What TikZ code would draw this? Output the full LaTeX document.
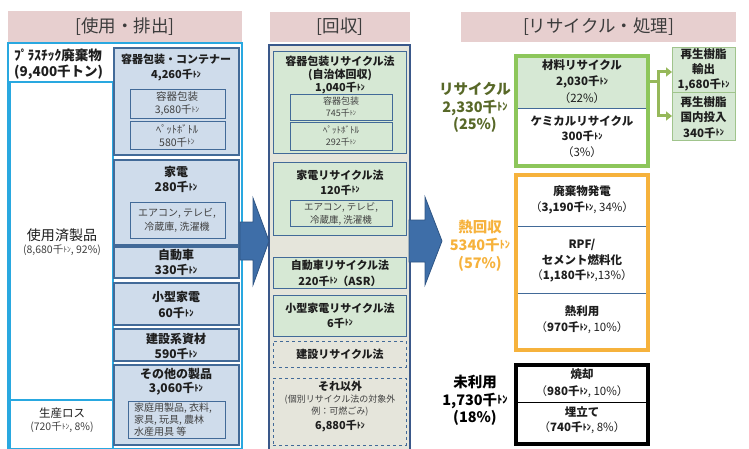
\documentclass[tikz,border=0pt]{standalone}
\usepackage{fontspec}
\setmainfont{Noto Sans CJK JP}
\usetikzlibrary{arrows.meta}
\definecolor{pinkh}{RGB}{231,207,207}
\definecolor{hdrtxt}{RGB}{60,60,60}
\definecolor{cyanb}{RGB}{41,168,224}
\definecolor{bgfill}{RGB}{207,220,235}
\definecolor{bborder}{RGB}{66,106,152}
\definecolor{mborder}{RGB}{58,88,138}
\definecolor{mfill}{RGB}{229,229,219}
\definecolor{gfill}{RGB}{214,232,212}
\definecolor{arrowblue}{RGB}{62,110,168}
\definecolor{arrowedge}{RGB}{47,85,132}
\definecolor{gframe}{RGB}{141,198,91}
\definecolor{oframe}{RGB}{246,178,60}
\definecolor{olive}{RGB}{88,104,40}
\definecolor{garrowc}{RGB}{150,184,90}
\definecolor{rborder}{RGB}{160,196,140}
\definecolor{txt}{RGB}{30,30,30}
\definecolor{txtl}{RGB}{64,64,64}
\newcommand\kt{千\raisebox{0.12em}{\scalebox{0.72}{ﾄﾝ}}}
\begin{document}
\begin{tikzpicture}[x=1pt,y=-1pt,
  box/.style={inner sep=0pt, outer sep=0pt, anchor=north west},
  hdr/.style={box, fill=pinkh},
  cy/.style={box, draw=cyanb, line width=1.2pt},
  bl/.style={box, fill=bgfill, draw=bborder, line width=1.1pt},
  bli/.style={box, draw=bborder, line width=0.9pt},
  gr/.style={box, fill=gfill, draw=bborder, line width=0.9pt},
  grd/.style={box, draw=bborder, line width=0.9pt, dashed},
  half/.style={box, draw=bborder, line width=0.8pt},
  hdt/.style={font=\fontsize{17.5}{20}\selectfont, text=hdrtxt, inner sep=0pt},
  tb/.style={font=\bfseries\fontsize{12}{15}\selectfont, align=center, inner sep=0pt, text=txt},
  ts/.style={font=\fontsize{10.5}{13}\selectfont, align=center, inner sep=0pt, text=txtl},
  tr/.style={font=\fontsize{11.5}{16}\selectfont, align=center, inner sep=0pt, text=txt},
  lab/.style={font=\bfseries\fontsize{14.5}{17.5}\selectfont, align=center, inner sep=0pt},
  garw/.style={draw=garrowc, line width=3pt, -{Triangle[length=6pt,width=9pt]}},
  bigarrow/.style={fill=arrowblue, draw=arrowedge, line width=0.8pt}
]
\useasboundingbox (0,0) rectangle (749,449);

% ---------- left section ----------
\node[hdr, minimum width=234pt, minimum height=31pt] (h1) at (8,11) {};
\node[hdt] (h1t) at (h1.center) {[使用・排出]};
\node[cy, minimum width=234pt, minimum height=406pt] (outL) at (8,43) {};
\node[cy, minimum width=103pt, minimum height=318pt] (colU) at (10,82) {};
\node[cy, minimum width=103pt, minimum height=49pt] (colL) at (10,400) {};
\node[tb, font=\bfseries\fontsize{13.5}{16}\selectfont, anchor=west, align=left] (plt) at (14,64) {ﾌﾟﾗｽﾁｯｸ廃棄物\\(9,400千トン)};
\node[inner sep=0pt, font=\fontsize{14}{17}\selectfont, text=txt] (usedt) at (62,235) {使用済製品};
\node[inner sep=0pt, font=\fontsize{10.5}{12}\selectfont, text=txtl] (usedn) at (62,250) {(8,680\kt, 92\%)};
\node[inner sep=0pt, font=\fontsize{11.5}{14}\selectfont, text=txt] (losst) at (62,413) {生産ロス};
\node[inner sep=0pt, font=\fontsize{10.5}{12}\selectfont, text=txtl] (lossn) at (62,427) {(720\kt, 8\%)};

\node[bl, minimum width=125pt, minimum height=107pt] (b1) at (114,48) {};
\node[bli, minimum width=95pt, minimum height=29pt] (b1a) at (130,89) {};
\node[bli, minimum width=95pt, minimum height=28pt] (b1b) at (130,121) {};
\node[bl, minimum width=125pt, minimum height=85pt] (b2) at (114,160) {};
\node[bli, minimum width=95pt, minimum height=36pt] (b2a) at (130,202) {};
\node[bl, minimum width=125pt, minimum height=31pt] (b3) at (114,247) {};
\node[bl, minimum width=125pt, minimum height=42pt] (b4) at (114,283) {};
\node[bl, minimum width=125pt, minimum height=32pt] (b5) at (114,329) {};
\node[bl, minimum width=125pt, minimum height=80pt] (b6) at (114,365) {};
\node[bli, minimum width=97pt, minimum height=37pt] (b6a) at (128,401) {};

\node[tb, font=\bfseries\fontsize{11}{15}\selectfont] (b1t) at (176,67.5) {容器包装・コンテナー\\4,260\kt};
\node[ts] (b1at) at (177,104) {容器包装\\3,680\kt};
\node[ts] (b1bt) at (177,135.5) {ﾍﾟｯﾄﾎﾞﾄﾙ\\580\kt};
\node[tb] (b2t) at (176,179.5) {家電\\280\kt};
\node[ts, font=\fontsize{10}{14}\selectfont] (b2at) at (177,220) {エアコン, テレビ,\\冷蔵庫, 洗濯機};
\node[tb] (b3t) at (176,262.5) {自動車\\330\kt};
\node[tb, font=\bfseries\fontsize{12}{16}\selectfont] (b4t) at (176,305) {小型家電\\60\kt};
\node[tb] (b5t) at (176,346.5) {建設系資材\\590\kt};
\node[tb, font=\bfseries\fontsize{12}{14}\selectfont] (b6t) at (176,382) {その他の製品\\3,060\kt};
\node[ts, font=\fontsize{10}{12}\selectfont, anchor=west, align=left] (b6at) at (134,420) {家庭用製品, 衣料,\\家具, 玩具, 農林\\水産用具 等};

% ---------- middle section ----------
\node[hdr, minimum width=140pt, minimum height=30pt] (h2) at (270,12) {};
\node[hdt] (h2t) at (h2.center) {[回収]};
\node[box, fill=mfill, draw=mborder, line width=2pt, minimum width=141pt, minimum height=410pt] (outM) at (269,45) {};
\node[gr, minimum width=133pt, minimum height=102pt] (m1) at (273,51) {};
\node[bli, minimum width=102pt, minimum height=26pt] (m1a) at (290,94) {};
\node[bli, minimum width=102pt, minimum height=28pt] (m1b) at (290,122) {};
\node[gr, minimum width=133pt, minimum height=73pt] (m2) at (273,162) {};
\node[bli, minimum width=102pt, minimum height=26pt] (m2a) at (290,200) {};
\node[gr, minimum width=133pt, minimum height=31pt] (m3) at (273,257) {};
\node[gr, minimum width=133pt, minimum height=41pt] (m4) at (273,295) {};
\node[grd, minimum width=133pt, minimum height=26pt] (m5) at (273,341) {};
\node[grd, minimum width=133pt, minimum height=67pt] (m6) at (273,378) {};

\node[tb, font=\bfseries\fontsize{11}{13}\selectfont] (m1t) at (340,75) {容器包装リサイクル法\\(自治体回収)\\1,040\kt};
\node[ts, font=\fontsize{9}{12}\selectfont] (m1at) at (341,107) {容器包装\\745\kt};
\node[ts, font=\fontsize{9}{12}\selectfont] (m1bt) at (341,136.5) {ﾍﾟｯﾄﾎﾞﾄﾙ\\292\kt};
\node[tb, font=\bfseries\fontsize{11}{15}\selectfont] (m2t) at (340,182.5) {家電リサイクル法\\120\kt};
\node[ts, font=\fontsize{9.5}{13}\selectfont] (m2at) at (341,213.5) {エアコン, テレビ,\\冷蔵庫, 洗濯機};
\node[tb, font=\bfseries\fontsize{11}{16}\selectfont] (m3t) at (340,273) {自動車リサイクル法\\220\kt（ASR）};
\node[tb, font=\bfseries\fontsize{11}{15}\selectfont] (m4t) at (340,315.5) {小型家電リサイクル法\\6\kt};
\node[tb, font=\bfseries\fontsize{11}{15}\selectfont] (m5t) at (340,354) {建設リサイクル法};
\node[tb, font=\bfseries\fontsize{11}{15}\selectfont] (m6t) at (340,386) {それ以外};
\node[ts, font=\fontsize{9}{12}\selectfont] (m6s) at (340,406) {(個別リサイクル法の対象外\\例：可燃ごみ)};
\node[tb, font=\bfseries\fontsize{11}{15}\selectfont] (m6n) at (340,426) {6,880\kt};

% ---------- block arrows ----------
\path[bigarrow] (240,222) -- (253,222) -- (253,198) -- (269,241) -- (253,285) -- (253,260) -- (240,260) -- cycle;
\path[bigarrow] (409,220) -- (425,220) -- (425,197) -- (442,241) -- (425,285) -- (425,262) -- (409,262) -- cycle;

% ---------- right section ----------
\node[hdr, minimum width=275pt, minimum height=30pt] (h3) at (461,12) {};
\node[hdt] (h3t) at (h3.center) {[リサイクル・処理]};

\node[box, fill=gfill, draw=rborder, line width=0.8pt, minimum width=63pt, minimum height=45pt] (r1) at (672,47) {};
\node[box, fill=gfill, draw=rborder, line width=0.8pt, minimum width=63pt, minimum height=48pt] (r2) at (672,92) {};

\node[half, fill=gfill, minimum width=132pt, minimum height=52pt] (gtop) at (516,56) {};
\node[half, fill=white, minimum width=132pt, minimum height=58pt] (gbot) at (516,108) {};
\draw[garw] (gtop.east) -- ++(10,0) |- ([yshift=-2.5pt]r1.west);
\draw[garw] (gtop.east) -- ++(10,0) |- (r2.west);
\node[box, draw=gframe, line width=4pt, minimum width=132pt, minimum height=110pt] (gfr) at (516,56) {};

\node[half, fill=white, minimum width=132pt, minimum height=51pt] (o1) at (516,175) {};
\node[half, fill=white, minimum width=132pt, minimum height=67pt] (o2) at (516,226) {};
\node[half, fill=white, minimum width=132pt, minimum height=57pt] (o3) at (516,293) {};
\node[box, draw=oframe, line width=4pt, minimum width=132pt, minimum height=175pt] (ofr) at (516,175) {};

\node[box, draw=black, line width=0.8pt, fill=white, minimum width=132pt, minimum height=37pt] (k1) at (516,365) {};
\node[box, draw=black, line width=0.8pt, fill=white, minimum width=132pt, minimum height=42pt] (k2) at (516,402) {};
\node[box, draw=black, line width=4pt, minimum width=132pt, minimum height=79pt] (kfr) at (516,365) {};

\node[tb, font=\bfseries\fontsize{11.5}{15}\selectfont] (r1t) at (703.5,70) {再生樹脂\\輸出\\1,680\kt};
\node[tb, font=\bfseries\fontsize{11.5}{15.5}\selectfont] (r2t) at (703.5,117.5) {再生樹脂\\国内投入\\340\kt};

\node[lab, text=olive] (lab1) at (475,107.5) {リサイクル\\2,330\kt\\(25\%)};
\node[lab, text=oframe, font=\bfseries\fontsize{14.5}{18}\selectfont] (lab2) at (480,246) {熱回収\\5340\kt\\(57\%)};
\node[lab, text=black] (lab3) at (475,400.5) {未利用\\1,730\kt\\(18\%)};

\node[tr, font=\fontsize{11.5}{16.5}\selectfont] (gtopt) at (582,81.5) {\textbf{材料リサイクル}\\\textbf{2,030\kt}\\（22\%）};
\node[tr, font=\fontsize{11.5}{15.5}\selectfont] (gbott) at (582,136.5) {\textbf{ケミカルリサイクル}\\\textbf{300\kt}\\（3\%）};
\node[tr] (o1t) at (582,200) {\textbf{廃棄物発電}\\（\textbf{3,190\kt}, 34\%）};
\node[tr, font=\fontsize{11.5}{15.5}\selectfont] (o2t) at (582,261) {\textbf{RPF/}\\\textbf{セメント燃料化}\\（\textbf{1,180\kt},13\%）};
\node[tr] (o3t) at (582,320) {\textbf{熱利用}\\（\textbf{970\kt}, 10\%）};
\node[tr, font=\fontsize{11.5}{17}\selectfont] (k1t) at (582,383.5) {\textbf{焼却}\\（\textbf{980\kt}, 10\%）};
\node[tr, font=\fontsize{11.5}{15}\selectfont] (k2t) at (582,420.5) {\textbf{埋立て}\\（\textbf{740\kt}, 8\%）};
\end{tikzpicture}
\end{document}
